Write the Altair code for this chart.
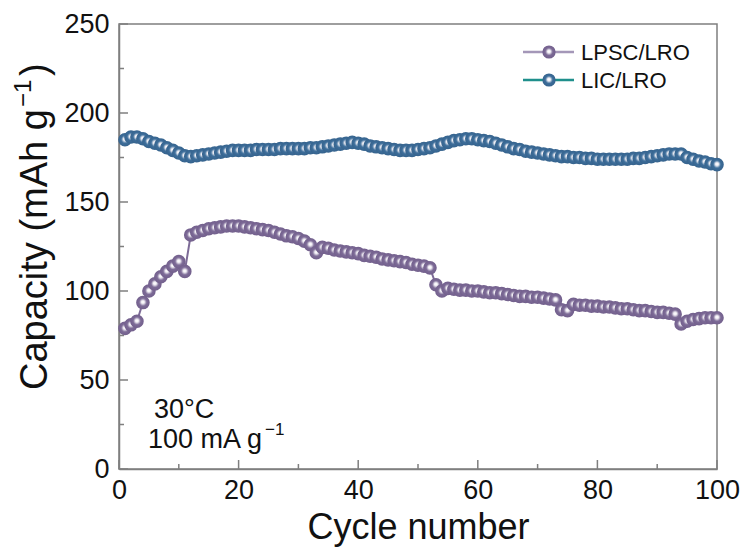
import altair as alt
import pandas as pd

# ---------------- data ----------------
cycles = list(range(1, 101))
series_names = ["LPSC/LRO", "LIC/LRO"]

lpsc_lro = [79, 81, 83, 93.5, 100, 104, 108, 111, 114, 116.5,
            111, 131.5, 133, 134, 135, 135.5, 136, 136.5, 136.5, 136.5,
            136, 135.5, 135, 134.5, 134, 133, 132, 131, 130.5, 129.5,
            128, 126, 121.5, 124.5, 124, 123, 122.5, 122, 121.5, 121,
            120, 119.5, 119, 118, 117.5, 117, 116.5, 116, 115, 114.5,
            114, 113, 103.5, 100, 101.5, 101, 100.5, 100.5, 100, 100,
            99.5, 99, 99, 98.5, 98, 97.5, 97, 97, 96.5, 96.5,
            96, 95.5, 95, 89.5, 89, 92.5, 92, 92, 91.5, 91.5,
            91, 91, 90.5, 90, 90, 89.5, 89, 89, 88.5, 88,
            88, 87.5, 87, 81.5, 83, 84, 84.5, 85, 85, 85]

lic_lro = [185, 186.5, 186.5, 185.5, 184, 183, 182, 180.5, 179, 177.5,
           176, 175.5, 176, 176.5, 177, 177.5, 178, 178.5, 179, 179,
           179, 179, 179.5, 179.5, 179.5, 179.5, 180, 180, 180, 180,
           180, 180.5, 180.5, 181, 181.5, 182, 182.5, 183, 183.5, 183,
           182.5, 181.5, 181, 180.5, 180, 179.5, 179, 179, 179, 179.5,
           180, 180.5, 181.5, 182.5, 183.5, 184.5, 185, 185.5, 185.5, 185,
           184.5, 184, 183, 182, 181, 180, 179.5, 178.5, 178, 177.5,
           177, 176.5, 176, 175.5, 175.5, 175, 175, 174.5, 174.5, 174,
           174, 174, 174, 174, 174, 174.5, 174.5, 175, 175.5, 176,
           176.5, 177, 177, 177, 175, 174, 173, 172.5, 171.5, 171]

x_ticks_major = [0, 20, 40, 60, 80, 100]
x_ticks_minor = [10, 30, 50, 70, 90]
y_ticks_major = [0, 50, 100, 150, 200, 250]
y_ticks_minor = [25, 75, 125, 175, 225]

df = pd.DataFrame({
    "cycle": cycles * 2,
    "capacity": lpsc_lro + lic_lro,
    "series": [series_names[0]] * len(cycles) + [series_names[1]] * len(cycles),
})

# ---------------- style ----------------
FONT = "Liberation Sans"
PURPLE = "#7d6b97"
BLUE = "#3d6e9b"
LEG_PURPLE = "#a497b8"
LEG_TEAL = "#1f8f8c"
GRAY = "#7f7f7f"
W, H = 598, 445

xscale = alt.Scale(domain=[0, 100], nice=False, zero=False)
yscale = alt.Scale(domain=[0, 250], nice=False)


def grad(c, dark):
    return alt.RadialGradient(
        gradient="radial",
        stops=[alt.GradientStop(offset=0, color="#ffffff"),
               alt.GradientStop(offset=0.22, color="#f4f2f7"),
               alt.GradientStop(offset=0.55, color=c),
               alt.GradientStop(offset=1, color=dark)],
        x1=0.5, y1=0.45, r1=0, x2=0.5, y2=0.5, r2=0.5)


GRADS = {series_names[0]: grad(PURPLE, "#725f8c"),
         series_names[1]: grad(BLUE, "#36638d")}

xaxis = alt.Axis(values=x_ticks_major, ticks=False, tickSize=0, grid=False,
                 domainColor=GRAY, domainWidth=1.5,
                 labelFont=FONT, labelFontSize=27, labelColor="#111111",
                 labelPadding=8, labelFlush=False,
                 title="Cycle number", titleFont=FONT, titleFontSize=36,
                 titleFontWeight="normal", titleColor="#111111", titlePadding=7)
yaxis = alt.Axis(values=y_ticks_major, ticks=False, tickSize=0, grid=False,
                 domainColor=GRAY, domainWidth=1.5,
                 labelFont=FONT, labelFontSize=27, labelColor="#111111",
                 labelPadding=10, labelFlush=False, title="")

base = alt.Chart(df)

lines = base.mark_line(strokeWidth=2).encode(
    x=alt.X("cycle:Q", scale=xscale, axis=xaxis),
    y=alt.Y("capacity:Q", scale=yscale, axis=yaxis),
    color=alt.Color("series:N", scale=alt.Scale(domain=series_names, range=[PURPLE, BLUE]), legend=None),
    order="cycle:Q",
)

point_layers = []
for name in series_names:
    point_layers.append(
        base.transform_filter(alt.datum.series == name)
        .mark_circle(size=185, opacity=1, fill=GRADS[name], filled=True)
        .encode(x=alt.X("cycle:Q", scale=xscale, axis=xaxis),
                y=alt.Y("capacity:Q", scale=yscale, axis=yaxis))
    )


# inward ticks
def ytick(vals, length):
    return alt.Chart(pd.DataFrame({"capacity": vals})).mark_rule(color=GRAY, strokeWidth=1.5).encode(
        y=alt.Y("capacity:Q", scale=yscale, axis=yaxis), x=alt.value(0), x2=alt.value(length))


def xtick(vals, length):
    return alt.Chart(pd.DataFrame({"cycle": vals})).mark_rule(color=GRAY, strokeWidth=1.5).encode(
        x=alt.X("cycle:Q", scale=xscale, axis=xaxis), y=alt.value(H), y2=alt.value(H - length))


ticks = [ytick(y_ticks_major, 9), ytick(y_ticks_minor, 5),
         xtick(x_ticks_major, 9), xtick(x_ticks_minor, 5)]

# legend (manual, line + bead)
legend_layers = []
leg_rows = [(series_names[0], LEG_PURPLE, 28), (series_names[1], LEG_TEAL, 56)]
for name, lc, yy in leg_rows:
    ld = pd.DataFrame({"label": [name]})
    legend_layers.append(alt.Chart(ld).mark_rule(color=lc, strokeWidth=2.5).encode(
        x=alt.value(404), x2=alt.value(455), y=alt.value(yy)))
    legend_layers.append(alt.Chart(ld).mark_circle(size=175, opacity=1, fill=GRADS[name], filled=True).encode(
        x=alt.value(430), y=alt.value(yy)))
    legend_layers.append(alt.Chart(ld).mark_text(font=FONT, fontSize=22, align="left", baseline="middle",
                                                 color="#111111").encode(
        text="label:N", x=alt.value(462), y=alt.value(yy + 1)))


# annotations
def txt(s, x, y, size, angle=0, baseline="alphabetic"):
    kw = dict(font=FONT, fontSize=size, align="left", baseline=baseline, color="#111111")
    if angle:
        kw["angle"] = angle
    return alt.Chart(pd.DataFrame({"t": [s]})).mark_text(**kw).encode(
        text="t:N", x=alt.value(x), y=alt.value(y))


annots = [
    txt("30°C", 35, 394, 27),
    txt("100 mA g", 29, 424, 27),
    txt("\u22121", 146, 411, 17),
    # y-axis title with superscript
    txt("Capacity (mAh g", -72, 366, 38, angle=270),
    txt("\u22121", -88, 83, 24, angle=270),
    txt(")", -72, 52, 38, angle=270),
]

chart = alt.layer(lines, *point_layers, *ticks, *legend_layers, *annots).properties(
    width=W, height=H,
    autosize=alt.AutoSizeParams(type="none"),
    padding={"left": 119, "top": 24, "right": 29, "bottom": 81},
    background="white",
).configure_view(stroke=GRAY, strokeWidth=1.5)

chart.save("out.html", embed_options={"renderer": "svg", "actions": False})
